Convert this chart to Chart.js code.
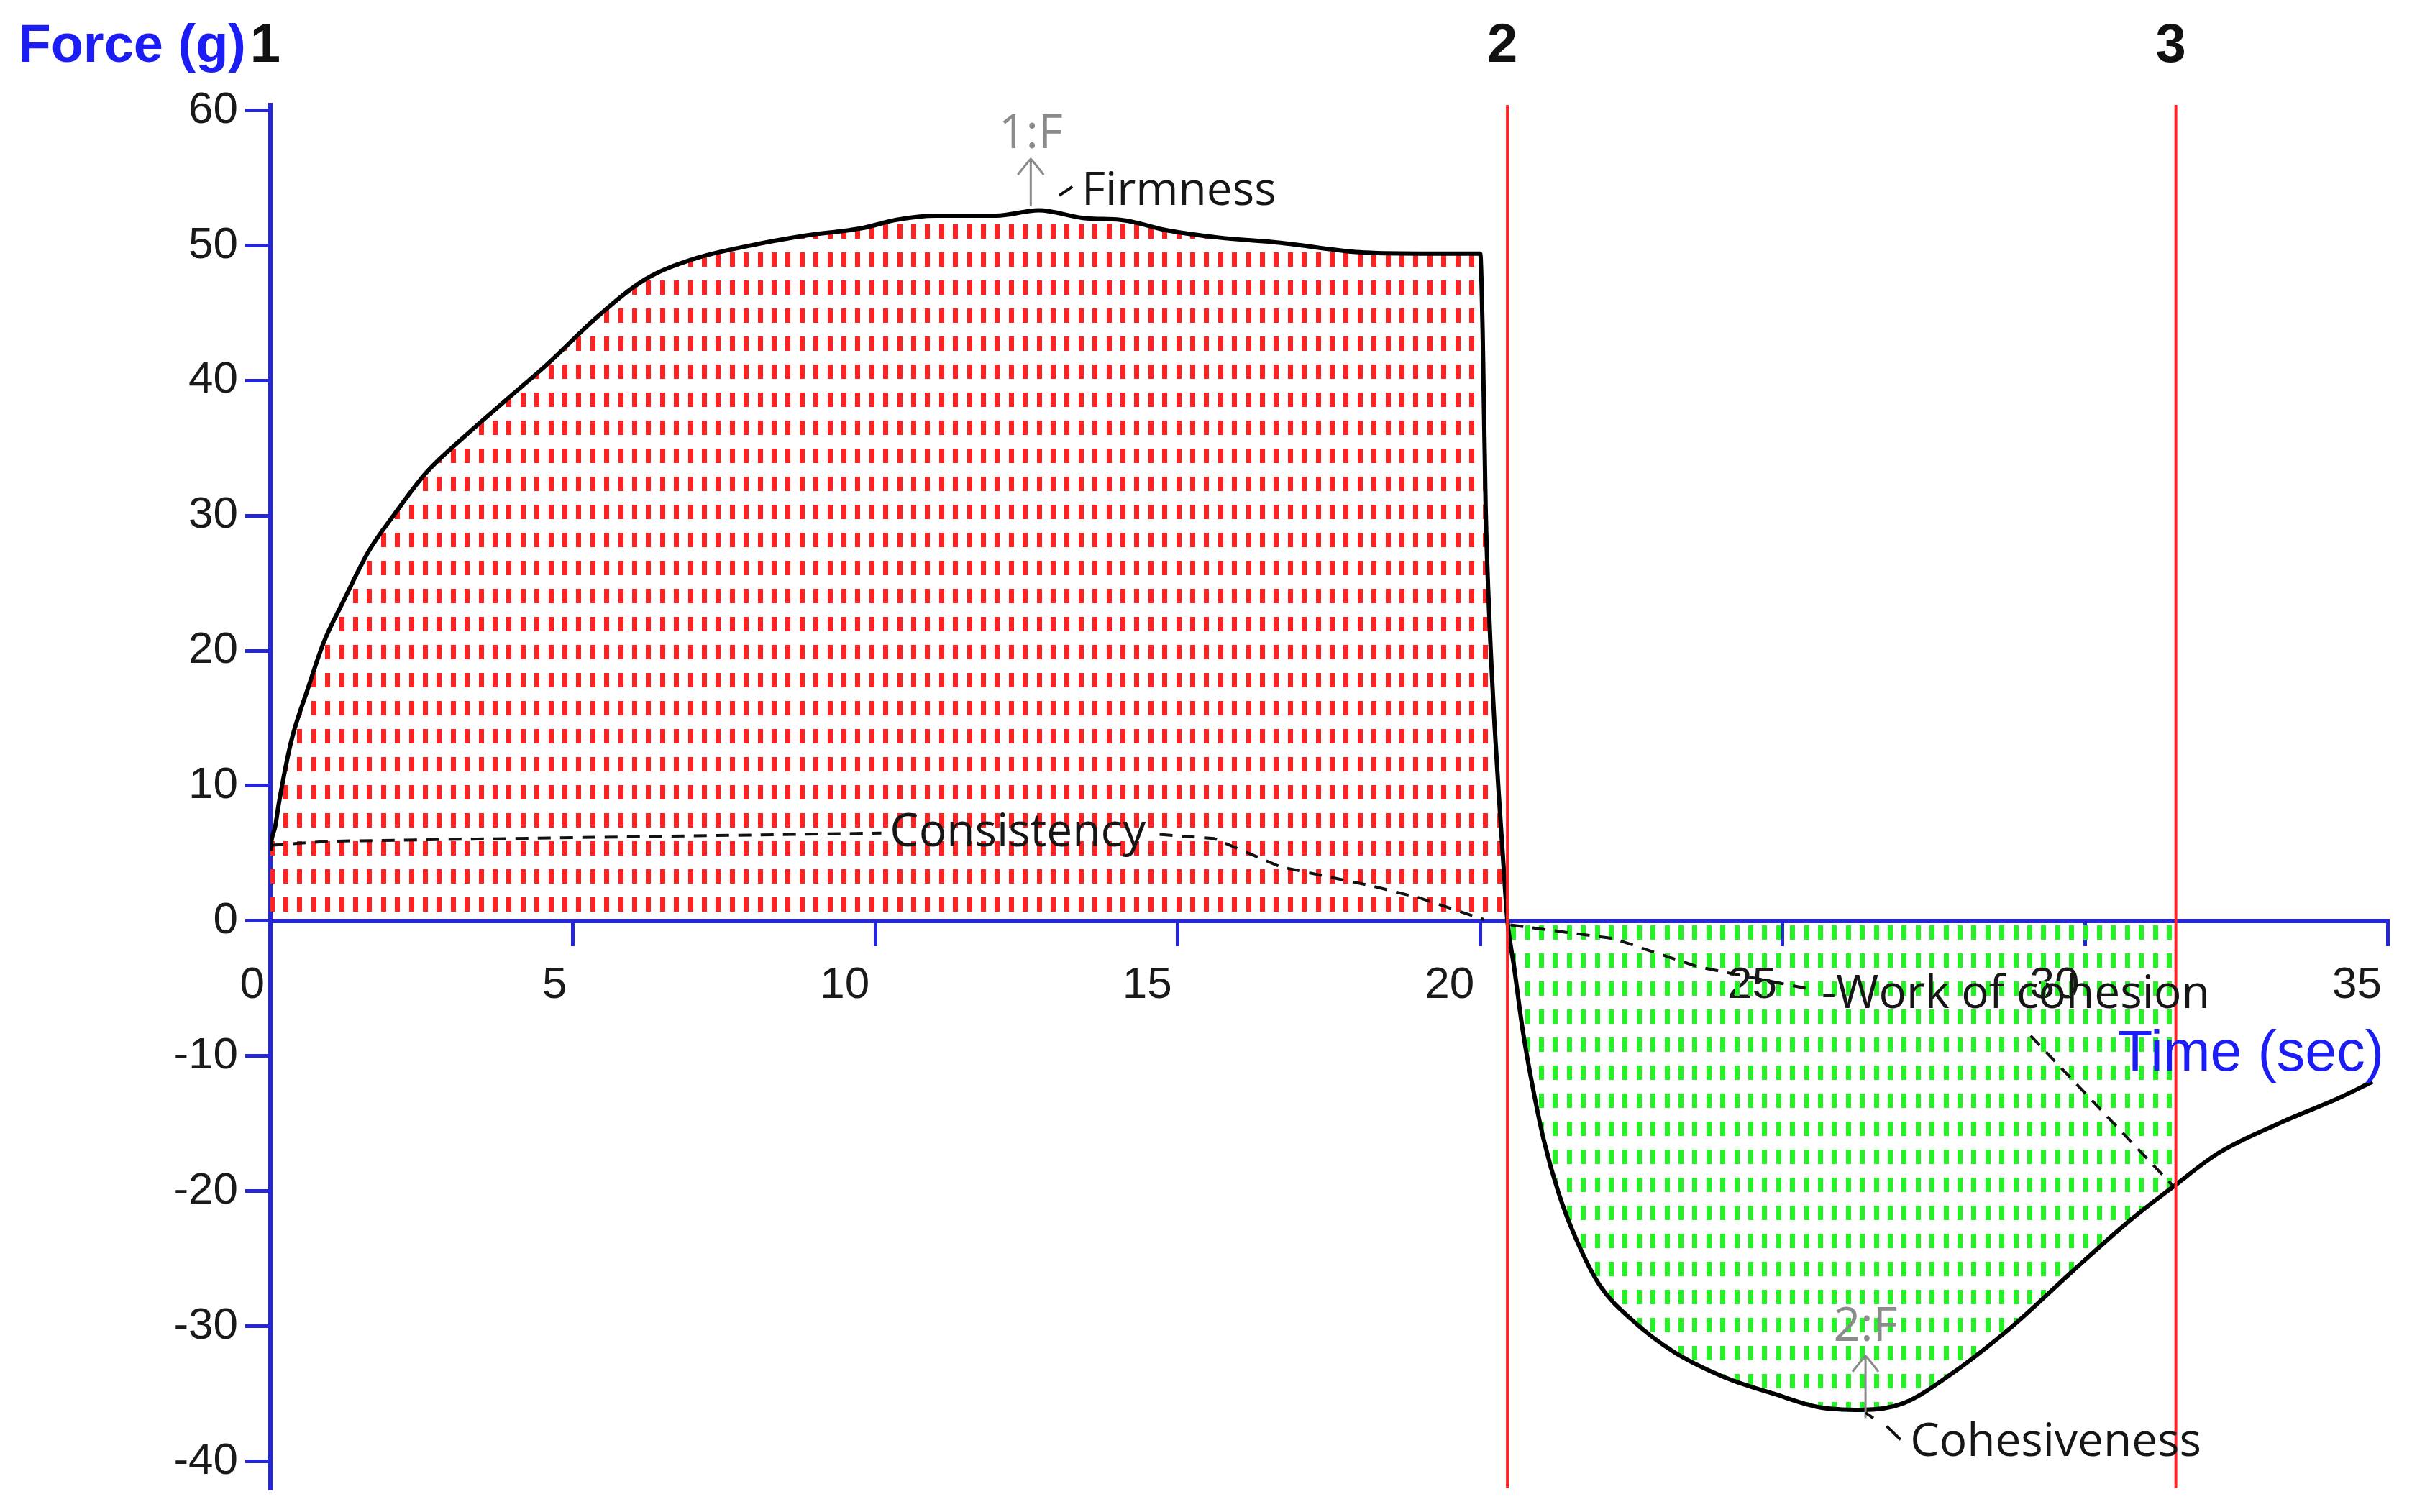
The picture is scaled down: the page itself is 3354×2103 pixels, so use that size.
<!DOCTYPE html>
<html>
<head>
<meta charset="utf-8">
<title>Force vs time</title>
<script src="https://cdn.jsdelivr.net/npm/chart.js@4.4.1/dist/chart.umd.min.js"></script>
<style>
  html, body { margin: 0; padding: 0; background: #fff; }
  canvas { display: block; }
</style>
</head>
<body>
<canvas id="chart" width="3354" height="2103"></canvas>
<script>
// texture profile: time (sec) and force (g)
const time = [0, 0.02, 0.08, 0.14, 0.35, 0.62, 0.88, 1.2, 1.63, 2.05, 2.58, 3.22, 3.96, 4.6, 5.4, 6.2, 7.0, 7.94, 8.8, 9.8,
  10.35, 11.0, 12.0, 12.7, 13.5, 14.05, 14.85, 15.65, 16.7, 18.0, 19.0, 20.0, 20.04, 20.09, 20.16, 20.24, 20.32, 20.39, 20.45,
  20.56, 20.7, 20.86, 21.05, 21.3, 21.6, 21.98, 22.5, 23.2, 24.05, 24.85, 25.6, 26.3, 27.0, 27.8, 28.8, 29.8, 30.76, 31.45,
  32.2, 33.2, 34.2, 34.75];
const force = [5.2, 6.0, 7.0, 8.7, 13.4, 17.2, 20.6, 23.6, 27.4, 30.1, 33.2, 35.9, 38.8, 41.3, 44.7, 47.5, 49.0, 50.0, 50.7, 51.3,
  51.9, 52.2, 52.2, 52.6, 52.0, 51.9, 51.1, 50.6, 50.2, 49.5, 49.4, 49.4, 43.7, 30.6, 21.5, 14.3, 8.5, 3.8, 0,
  -3.4, -8.0, -12.1, -16.2, -20.2, -23.7, -27.0, -29.5, -31.9, -33.8, -35.0, -36.0, -36.2, -35.7, -33.5, -30.0, -25.9, -22.1, -19.7,
  -17.2, -15.0, -13.1, -11.9];

// anchors 1, 2, 3 (red cursor lines)
const markerTimes = [0, 20.45, 31.5];
const markerLabels = ['1', '2', '3'];

// dashed annotation leaders (null = gap under the label)
const consistencyLeaderT = [0, 1.0, 10.1, 12.0, 14.7, 15.6, 16.7, 18.2, 19.0, 20.06];
const consistencyLeaderF = [5.6, 5.9, 6.5, null, 6.4, 6.1, 4.0, 2.6, 1.7, 0.1];
const cohesionLeaderT = [20.5, 22.2, 23.6, 25.4, 25.5, 29.1, 31.45];
const cohesionLeaderF = [-0.3, -1.3, -3.4, -5.0, null, -8.5, -19.6];

const xTicksMax = 35;
const yTicksMin = -40, yTicksMax = 60;

const AXIS_BLUE = '#2626d9';
const TITLE_BLUE = '#1c1cf5';

function pts(ts, fs) {
    var out = [];
    for (var i = 0; i < ts.length; i++) out.push({x: ts[i], y: fs[i]});
    return out;
}

function between(t0, t1) {
    return pts(time, force).filter(function (p) { return p.x >= t0 && p.x <= t1; });
}

// 5 columns in 97px gives the 19.4px pitch of the original hatch
function dashPattern(color) {
    var c = document.createElement('canvas');
    c.width = 97; c.height = 39;
    var g = c.getContext('2d');
    g.fillStyle = color;
    for (var i = 0; i < 5; i++) g.fillRect(Math.round(6 + i * 19.4), 0, 7, 20);
    return g.createPattern(c, 'repeat');
}

const redFill = dashPattern('#ff2222');
const greenFill = dashPattern('#26f026');

// labels, arrows and cursor lines on top of the plot
const overlay = {
    id: 'overlay',
    afterDatasetsDraw(chart) {
        var ctx = chart.ctx, xs = chart.scales.x, ys = chart.scales.y, a = chart.chartArea;
        var X = function (v) { return xs.getPixelForValue(v); };
        var Y = function (v) { return ys.getPixelForValue(v); };
        ctx.save();

        // red cursor lines + numbers
        markerTimes.forEach(function (t, i) {
            var px = X(t);
            if (i > 0) {
                ctx.strokeStyle = '#ff2424';
                ctx.lineWidth = 4;
                ctx.beginPath();
                ctx.moveTo(px, a.top);
                ctx.lineTo(px, a.bottom);
                ctx.stroke();
            }
            ctx.fillStyle = '#111';
            ctx.font = 'bold 76px "Liberation Sans"';
            ctx.textAlign = 'center';
            ctx.textBaseline = 'alphabetic';
            ctx.fillText(markerLabels[i], px - 7, 86);
        });

        // axis titles
        ctx.fillStyle = TITLE_BLUE;
        ctx.font = 'bold 74px "Liberation Sans"';
        ctx.textAlign = 'right';
        ctx.fillText('Force (g)', a.left - 34, 86);
        ctx.font = '79px "Liberation Sans"';
        ctx.fillText('Time (sec)', a.right - 5, Y(0) + 208);

        // grey peak markers with arrows
        function peak(label, t, fTip, fBase, fText) {
            ctx.strokeStyle = '#8a8a8a';
            ctx.fillStyle = '#8a8a8a';
            ctx.lineWidth = 3;
            var px = X(t), top = Y(fTip), bot = Y(fBase);
            ctx.beginPath();
            ctx.moveTo(px, bot); ctx.lineTo(px, top);
            ctx.moveTo(px - 18, top + 22); ctx.quadraticCurveTo(px - 4, top + 4, px, top);
            ctx.quadraticCurveTo(px + 4, top + 4, px + 18, top + 22);
            ctx.stroke();
            ctx.font = '66px "Open Sans"';
            ctx.textAlign = 'center';
            ctx.fillText(label, px, Y(fText));
        }
        peak('1:F', 12.57, 56.4, 52.9, 57.2);
        peak('2:F', 26.37, -32.2, -36.8, -31.1);

        // short leader ticks
        ctx.strokeStyle = '#111';
        ctx.lineWidth = 4;
        ctx.beginPath();
        ctx.moveTo(X(13.04), Y(53.7)); ctx.lineTo(X(13.26), Y(54.35));
        ctx.moveTo(X(26.37), Y(-36.4)); ctx.lineTo(X(26.5), Y(-36.8));
        ctx.moveTo(X(26.72), Y(-37.4)); ctx.lineTo(X(26.95), Y(-38.4));
        ctx.stroke();

        // parameter names
        ctx.fillStyle = '#161616';
        ctx.font = '64px "Open Sans"';
        ctx.textAlign = 'left';
        ctx.textBaseline = 'alphabetic';
        ctx.fillText('Firmness', X(13.41), Y(53.0));
        ctx.fillText('-Work of cohesion', X(25.64), Y(-6.45));
        ctx.fillText('Cohesiveness', X(27.11), Y(-39.6));
        ctx.textBaseline = 'middle';
        ctx.fillText('Consistency', X(10.24), Y(6.5));
        ctx.restore();
    }
};

const tickFont = {family: '"Liberation Sans", Arial, sans-serif', size: 62};

new Chart(document.getElementById('chart').getContext('2d'), {
    type: 'line',
    data: {
        datasets: [
            {
                label: 'Force',
                data: pts(time, force),
                borderColor: '#000',
                borderWidth: 6,
                pointRadius: 0,
                cubicInterpolationMode: 'monotone',
                fill: false,
                order: 0
            },
            {
                label: 'Consistency leader',
                data: pts(consistencyLeaderT, consistencyLeaderF),
                borderColor: '#111',
                borderWidth: 4,
                borderDash: [18, 13],
                pointRadius: 0,
                fill: false,
                order: 1
            },
            {
                label: 'Work of cohesion leader',
                data: pts(cohesionLeaderT, cohesionLeaderF),
                borderColor: '#111',
                borderWidth: 4,
                borderDash: [18, 13],
                pointRadius: 0,
                fill: false,
                order: 1
            },
            {
                label: 'Positive area',
                data: between(0, markerTimes[1]),
                borderWidth: 0,
                borderColor: 'rgba(0,0,0,0)',
                backgroundColor: redFill,
                pointRadius: 0,
                cubicInterpolationMode: 'monotone',
                fill: 'origin',
                order: 2
            },
            {
                label: 'Negative area',
                data: between(markerTimes[1], markerTimes[2]),
                borderWidth: 0,
                borderColor: 'rgba(0,0,0,0)',
                backgroundColor: greenFill,
                pointRadius: 0,
                cubicInterpolationMode: 'monotone',
                fill: 'origin',
                order: 2
            }
        ]
    },
    options: {
        responsive: false,
        devicePixelRatio: 1,
        animation: false,
        layout: {padding: {left: 0, right: 34, top: 146, bottom: 33}},
        plugins: {legend: {display: false}, tooltip: {enabled: false}},
        scales: {
            x: {
                type: 'linear',
                position: {y: 0},
                min: 0,
                max: xTicksMax,
                border: {display: true, color: AXIS_BLUE, width: 6},
                grid: {drawOnChartArea: false, drawTicks: true, tickLength: 32, color: AXIS_BLUE, lineWidth: 5},
                ticks: {stepSize: 5, align: 'end', labelOffset: -8, padding: 21, color: '#1a1a1a', font: tickFont}
            },
            y: {
                type: 'linear',
                min: -42,
                max: 60.4,
                afterFit: function (scale) {
                    scale.width = 376;
                    scale.paddingTop = 0;
                    scale.paddingBottom = 0;
                },
                afterBuildTicks: function (scale) {
                    scale.ticks = scale.ticks.filter(function (t) { return t.value >= yTicksMin && t.value <= yTicksMax; });
                },
                border: {display: true, color: AXIS_BLUE, width: 6},
                grid: {drawOnChartArea: false, drawTicks: true, tickLength: 35, color: AXIS_BLUE, lineWidth: 5},
                ticks: {stepSize: 10, includeBounds: false, padding: 10, color: '#1a1a1a', font: tickFont}
            }
        }
    },
    plugins: [overlay]
});
</script>
</body>
</html>
